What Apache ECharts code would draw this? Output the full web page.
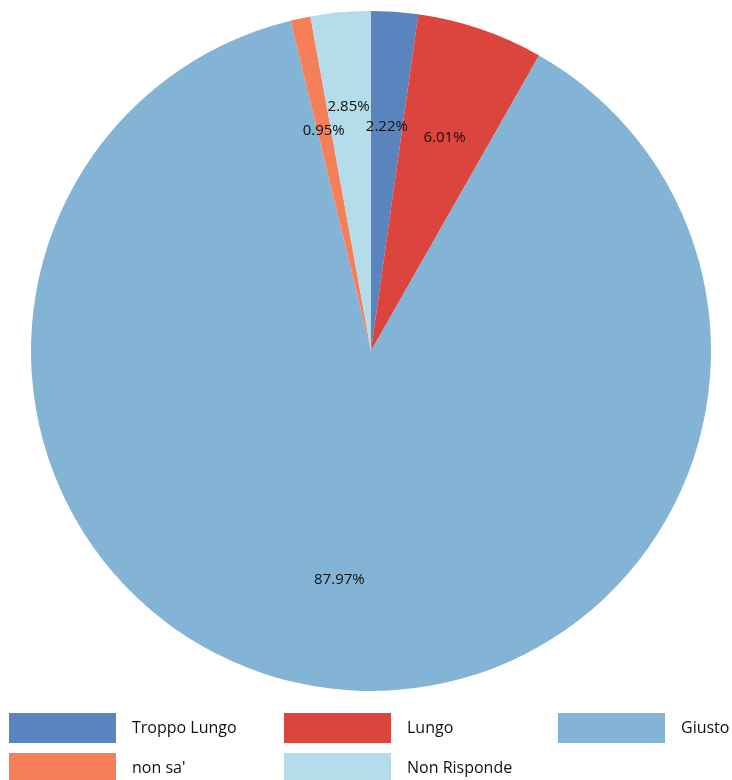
<!DOCTYPE html>
<html>
<head>
<meta charset="utf-8">
<script src="https://cdn.jsdelivr.net/npm/echarts@6/dist/echarts.min.js"></script>
<style>
  html, body { margin: 0; padding: 0; background: #fff; }
  #chart { width: 732px; height: 780px; }
</style>
</head>
<body>
<div id="chart"></div>
<script>
// Answer categories and their share (percent)
const categories = ['Troppo Lungo', 'Lungo', 'Giusto', "non sa'", 'Non Risponde'];
const shares = [2.22, 6.01, 87.97, 0.95, 2.85];
const colors = ['#5a84bd', '#dc453e', '#83b4d6', '#f57f59', '#b4dcea'];

const font = '"Open Sans", "Noto Sans", sans-serif';
const pieData = categories.map((name, i) => ({ name, value: shares[i] }));

// Label data: the narrow "Non Risponde" label is nudged outward to clear its neighbours
const labelData = pieData.map(d => d.name === 'Non Risponde'
  ? Object.assign({}, d, { label: { offset: [-2, -17] } })
  : d);

// Legend cells laid out in a 3-column grid
const legendPos = [
  { left: 9, top: 713 }, { left: 284, top: 713 }, { left: 558, top: 713 },
  { left: 9, top: 753 }, { left: 284, top: 753 }
];
const legends = categories.map((name, i) => ({
  data: [name],
  left: legendPos[i].left,
  top: legendPos[i].top,
  padding: 0,
  itemWidth: 107,
  itemHeight: 30,
  icon: 'rect',
  selectedMode: false,
  textStyle: { fontFamily: font, fontSize: 16, color: '#111', padding: [0, 0, 0, 11] }
}));

const chart = echarts.init(document.getElementById('chart'), null, { renderer: 'canvas' });
chart.setOption({
  animation: false,
  color: colors,
  legend: legends,
  series: [
    {
      type: 'pie',
      center: [371, 351],
      radius: [0, 340],
      startAngle: 90,
      clockwise: true,
      avoidLabelOverlap: false,
      label: { show: false },
      labelLine: { show: false },
      itemStyle: { borderWidth: 0 },
      emphasis: { disabled: true },
      data: pieData
    },
    {
      // transparent ring used only to place the percentage labels
      type: 'pie',
      center: [371, 351],
      radius: [110, 340],
      startAngle: 90,
      clockwise: true,
      silent: true,
      avoidLabelOverlap: false,
      minShowLabelAngle: 0,
      labelLayout: { hideOverlap: false },
      itemStyle: { color: 'rgba(0,0,0,0)', borderWidth: 0 },
      label: {
        show: true,
        position: 'inside',
        offset: [0, 3],
        formatter: p => p.value.toFixed(2) + '%',
        fontFamily: font,
        fontSize: 15,
        color: '#111'
      },
      labelLine: { show: false },
      emphasis: { disabled: true },
      data: labelData
    }
  ]
});
</script>
</body>
</html>
